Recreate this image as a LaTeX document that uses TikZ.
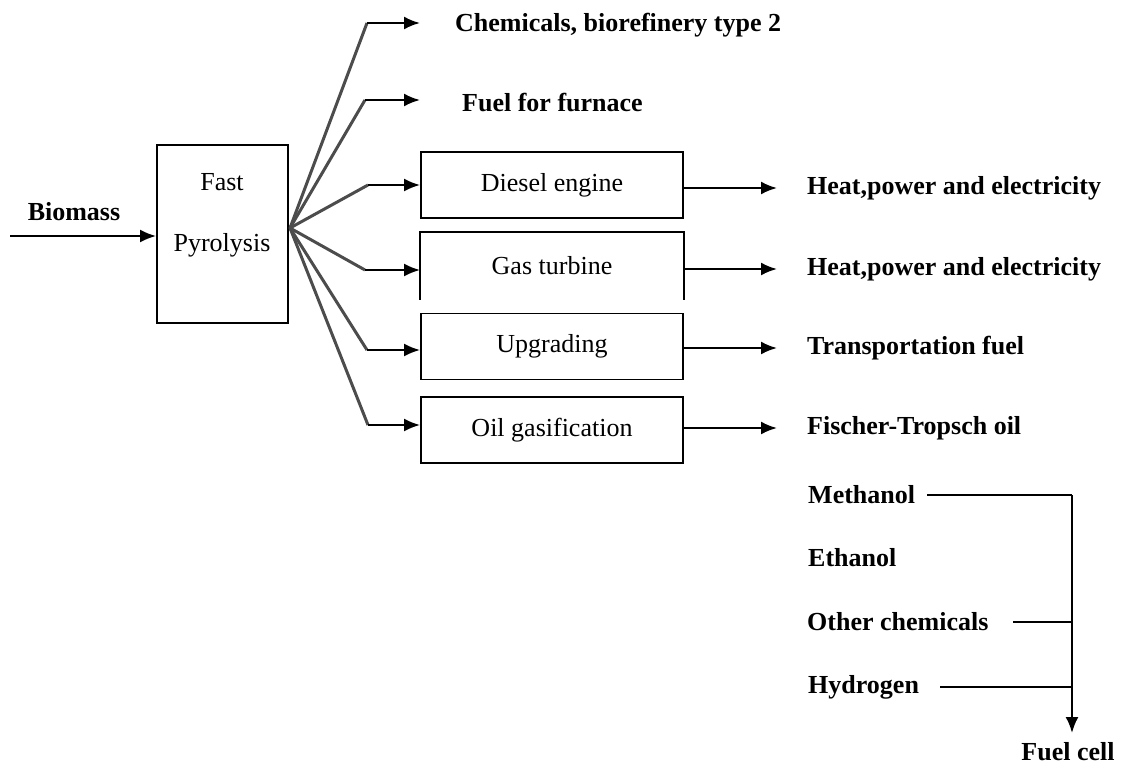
\documentclass[tikz,border=0pt]{standalone}
\usepackage{fontspec}
\setmainfont{Liberation Serif}
\usetikzlibrary{arrows.meta,calc}
\begin{document}
\begin{tikzpicture}[x=1pt,y=-1pt,
  boxst/.style={draw,line width=1.8pt,minimum width=262pt,minimum height=66pt,inner sep=0pt,
     font=\fontsize{26}{30}\selectfont},
  txt/.style={inner sep=0pt,font=\fontsize{26}{30}\selectfont},
  lbl/.style={inner sep=0pt,anchor=west,font=\fontsize{26}{30}\selectfont\bfseries},
  fanline/.style={draw=black!70,line width=3pt},
  arr/.style={draw=black,line width=2.2pt,-{Latex[length=16pt,width=13pt]}},
  plain/.style={draw=black,line width=2.2pt}]
\useasboundingbox (0,0) rectangle (1125,771);

% Biomass input
\node[lbl,anchor=center] (bio) at (74,212) {Biomass};
\coordinate (bstart) at (10,236);
\node[draw,line width=1.8pt,minimum width=131pt,minimum height=178pt,inner sep=0pt] (pyro) at (222.5,234) {};
\node[txt] (fast) at (222,182) {Fast};
\node[txt] (pyr) at (222,245) {Pyrolysis};
\draw[arr] (bstart) -- (pyro.west |- bstart);

% process boxes
\node[boxst] (diesel) at (552,185) {Diesel engine};
\node[boxst,draw=none] (gas) at (552,266) {Gas turbine};
\draw[line width=1.8pt] (gas.south west) -- (gas.north west) -- (gas.north east) -- (gas.south east);
\node[boxst] (upg) at (552,346.5) {Upgrading};
\node[boxst] (oil) at (552,430) {Oil gasification};

% fan
\coordinate (fan) at (290,228);
\coordinate (e1) at (367,23);
\coordinate (e2) at (365,100);
\coordinate (e3) at (368,185);
\coordinate (e4) at (365,270);
\coordinate (e5) at (367,350);
\coordinate (e6) at (368,425);
\coordinate (t1) at (420,23);
\coordinate (t2) at (420,100);
\foreach \i in {1,...,6} {\draw[fanline] (fan) -- (e\i);}
\draw[arr] (e1) -- (t1);
\draw[arr] (e2) -- (t2);
\draw[arr] (e3) -- (diesel.west |- e3);
\draw[arr] (e4) -- (gas.west |- e4);
\draw[arr] (e5) -- (upg.west |- e5);
\draw[arr] (e6) -- (oil.west |- e6);

% top labels
\node[lbl] (chem) at (455,25) {Chemicals, biorefinery type 2};
\node[lbl] (furn) at (462,103) {Fuel for furnace};

% outputs
\node[lbl] (o1) at (807,188) {Heat,power and electricity};
\node[lbl] (o2) at (807,269) {Heat,power and electricity};
\node[lbl] (o3) at (807,348) {Transportation fuel};
\node[lbl] (o4) at (807,428) {Fischer-Tropsch oil};
\coordinate (r1) at (777,188);
\coordinate (r2) at (777,269);
\coordinate (r3) at (777,348);
\coordinate (r4) at (777,428);
\draw[arr] (diesel.east |- r1) -- (r1);
\draw[arr] (gas.east |- r2) -- (r2);
\draw[arr] (upg.east |- r3) -- (r3);
\draw[arr] (oil.east |- r4) -- (r4);

% fuel cell chain
\node[lbl] (meth) at (808,495) {Methanol};
\node[lbl] (eth) at (808,558) {Ethanol};
\node[lbl] (other) at (807,622) {Other chemicals};
\node[lbl] (hyd) at (808,687) {Hydrogen};
\node[lbl,anchor=center] (cell) at (1068,752) {Fuel cell};
\coordinate (m1) at (927,495);
\coordinate (j1) at (1072,495);
\coordinate (m3) at (1013,622);
\coordinate (j3) at (1072,622);
\coordinate (m4) at (940,687);
\coordinate (j4) at (1072,687);
\coordinate (tip) at (1072,733);
\draw[plain] (m1) -- (j1);
\draw[plain] (m3) -- (j3);
\draw[plain] (m4) -- (j4);
\draw[arr] (j1) -- (tip);
\end{tikzpicture}
\end{document}
